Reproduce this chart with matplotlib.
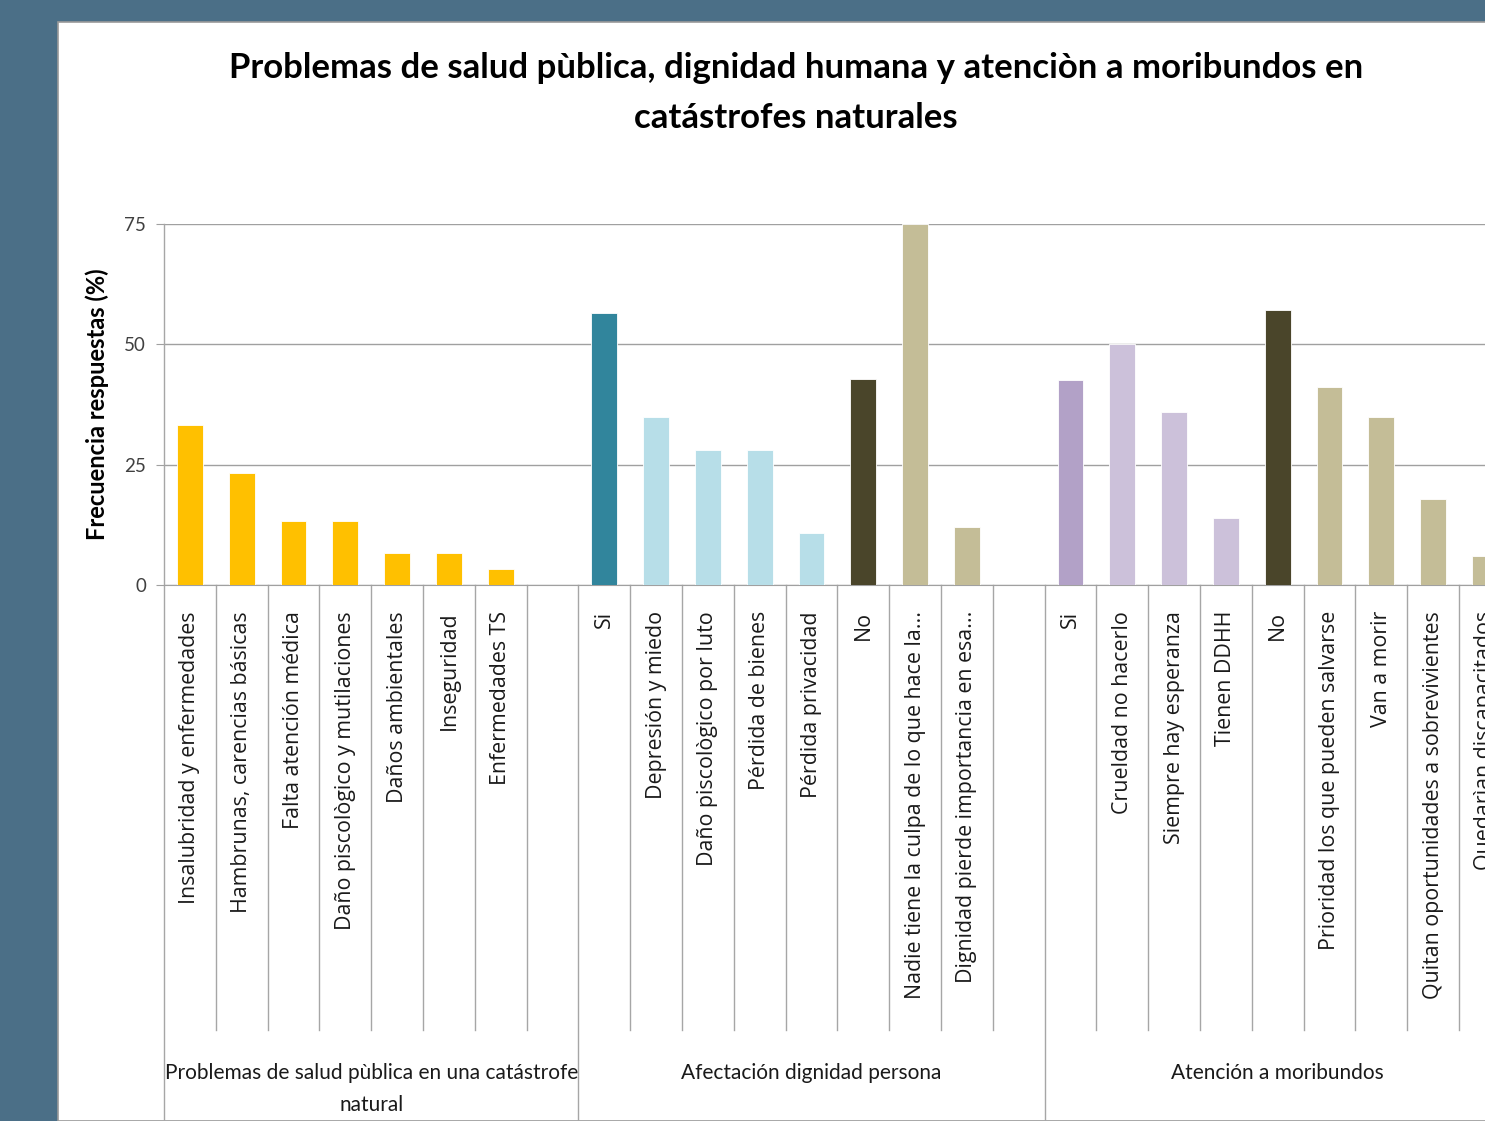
import numpy as np
import matplotlib.pyplot as plt
from matplotlib.patches import Rectangle

# data (values in %)
g1_labels = ["Insalubridad y enfermedades", "Hambrunas, carencias básicas",
             "Falta atención médica", "Daño piscològico y mutilaciones",
             "Daños ambientales", "Inseguridad", "Enfermedades TS"]
g1_values = [33.3, 23.3, 13.3, 13.3, 6.7, 6.7, 3.3]

g2_labels = ["Si", "Depresión y miedo", "Daño piscològico por luto",
             "Pérdida de bienes", "Pérdida privacidad", "No",
             "Nadie tiene la culpa de lo que hace la...",
             "Dignidad pierde importancia en esa..."]
g2_values = [56.5, 35.0, 28.0, 28.0, 10.8, 42.8, 75.0, 12.0]

g3_labels = ["Si", "Crueldad no hacerlo", "Siempre hay esperanza", "Tienen DDHH",
             "No", "Prioridad los que pueden salvarse", "Van a morir",
             "Quitan oportunidades a sobrevivientes", "Quedarìan discapacitados"]
g3_values = [42.6, 50.0, 36.0, 13.9, 57.1, 41.1, 35.0, 17.9, 6.0]

group_names = ["Problemas de salud pùblica en una catástrofe\nnatural",
               "Afectación dignidad persona", "Atención a moribundos"]

GOLD = "#FFC000"
TEAL = "#31859C"
LBLUE = "#B7DEE8"
DARK = "#4A452A"
TAN = "#C4BD97"
PURP = "#B2A1C7"
LPURP = "#CCC1DA"
g1_colors = [GOLD] * 7
g2_colors = [TEAL, LBLUE, LBLUE, LBLUE, LBLUE, DARK, TAN, TAN]
g3_colors = [PURP, LPURP, LPURP, LPURP, DARK, TAN, TAN, TAN, TAN]

# slot layout: group1 = 8 slots, group2 = 9 slots, group3 = 9 slots
starts = [0, 8, 17]
sizes = [8, 9, 9]
nslots = 26

W, H = 1485, 1121
fig = plt.figure(figsize=(W / 100, H / 100), dpi=100)
fig.patch.set_facecolor("#4B6F87")
fig.patches.append(Rectangle((58 / W, 0), 1, 1 - 22 / H, transform=fig.transFigure,
                             facecolor="white", edgecolor="#9A9A9A", lw=1.2, zorder=-10))

ax_left, ax_top, ax_bot = 164, 224, 585
slot_px = 51.8
ax = fig.add_axes([ax_left / W, (H - ax_bot) / H, nslots * slot_px / W, (ax_bot - ax_top) / H])
ax.set_facecolor("white")
ax.set_zorder(5)

labels_all = [g1_labels, g2_labels, g3_labels]
values_all = [g1_values, g2_values, g3_values]
colors_all = [g1_colors, g2_colors, g3_colors]

label_font = ["Open Sans", "DejaVu Sans"]
ahgt = ax_bot - ax_top
to_ay = lambda py: -(py - ax_bot) / ahgt
tr = ax.get_xaxis_transform()

for s, labs, vals, cols in zip(starts, labels_all, values_all, colors_all):
    xs = np.arange(len(vals)) + s + 0.5
    ax.bar(xs, vals, width=0.5, color=cols, edgecolor="white", linewidth=0.6, zorder=3)
    for x, lab in zip(xs, labs):
        ax.text(x, to_ay(611), lab, rotation=90, ha="center", va="top",
                fontsize=15.4, family=label_font, color="#1A1A1A", transform=tr)

# dividers below the axis
for k in range(1, nslots + 1):
    y_end = to_ay(H + 5) if k in (8, 17, 26) else to_ay(1030)
    ax.plot([k, k], [0, y_end], color="#A6A6A6", lw=1.0, transform=tr, clip_on=False)
ax.plot([0, 0], [1, to_ay(H + 5)], color="#A6A6A6", lw=1.0, transform=tr, clip_on=False)

for s, n, name in zip(starts, sizes, group_names):
    ax.text(s + n / 2, to_ay(1063), name, ha="center", va="top", fontsize=15,
            family="Lato", color="#1A1A1A", linespacing=1.74, transform=tr)

ax.set_xlim(0, nslots)
ax.set_ylim(0, 75)
ax.set_yticks([0, 25, 50, 75])
ax.set_xticks([])
ax.grid(axis="y", color="#A0A0A0", lw=1.0, zorder=0)
ax.set_axisbelow(True)
for sp in ["top", "right", "left"]:
    ax.spines[sp].set_visible(False)
ax.spines["bottom"].set_color("#A0A0A0")
ax.tick_params(axis="y", length=6, color="#A0A0A0", pad=7, labelsize=13.5, labelcolor="#404040")
for t in ax.get_yticklabels():
    t.set_family("Lato")

fig.text(97 / W, 1 - 404 / H, "Frecuencia respuestas (%)", rotation=90,
         ha="center", va="center", fontsize=17, fontweight="bold", family="Lato")

title_lines = ["Problemas de salud pùblica, dignidad humana y atenciòn a moribundos en",
               "catástrofes naturales"]
for line, py in zip(title_lines, [68, 118]):
    fig.text(796 / W, 1 - py / H, line, ha="center", va="center",
             fontsize=25, fontweight="bold", family="Lato")

fig.savefig("out.png", dpi=100, facecolor=fig.get_facecolor())
